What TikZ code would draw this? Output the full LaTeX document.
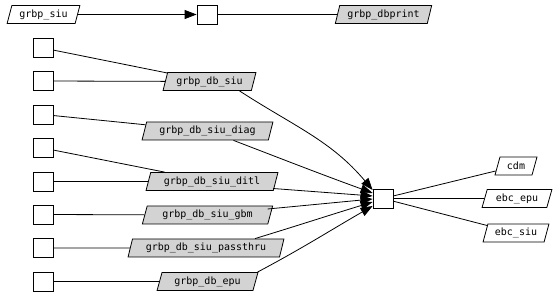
\documentclass[tikz,border=0pt]{standalone}
\usepackage{fontspec}
\setmonofont{DejaVu Sans Mono}
\usetikzlibrary{shapes.geometric,arrows.meta,calc}
\definecolor{gfill}{RGB}{211,211,211}
\begin{document}
\begin{tikzpicture}[x=1pt,y=-1pt,
  every node/.style={font=\ttfamily\fontsize{10}{11}\selectfont, inner sep=0pt, line width=0.8pt},
  para/.style={draw, trapezium, trapezium left angle=70, trapezium right angle=110,
    trapezium stretches=true, minimum height=18pt, minimum width=#1},
  gpara/.style={para=#1, fill=gfill},
  sq/.style={draw, rectangle, minimum width=20pt, minimum height=19pt},
  ln/.style={line width=0.8pt},
  arr/.style={line width=0.8pt, -{Triangle[length=12pt,width=9pt]}}
]
\useasboundingbox (0,0) rectangle (557,296);
% top row
\node[para=73pt] (siu) at (43.5,14.5) {grbp\_siu};
\node[sq] (tb) at (207,14.5) {};
\node[gpara=97pt] (dbprint) at (383.5,14.5) {grbp\_dbprint};
\draw[arr] (siu) -- (tb);
\draw[ln] (tb) -- (dbprint);
% left boxes
\node[sq] (b1) at (43,48) {};
\node[sq] (b2) at (43,81) {};
\node[sq] (b3) at (43,114.5) {};
\node[sq] (b4) at (43,148) {};
\node[sq] (b5) at (43,181.5) {};
\node[sq] (b6) at (43,214.5) {};
\node[sq] (b7) at (43,248) {};
\node[sq] (b8) at (43,281.5) {};
% gray nodes
\node[gpara=93pt] (dbsiu) at (209.5,81.5) {grbp\_db\_siu};
\node[gpara=131pt] (diag) at (207.5,131) {grbp\_db\_siu\_diag};
\node[gpara=132pt] (ditl) at (212,181.5) {grbp\_db\_siu\_ditl};
\node[gpara=131pt] (gbm) at (207.5,215) {grbp\_db\_siu\_gbm};
\node[gpara=156pt] (pass) at (206,248) {grbp\_db\_siu\_passthru};
\node[gpara=101pt] (epu) at (207.5,281.5) {grbp\_db\_epu};
% central box
\node[sq] (cb) at (383,198.5) {};
% right nodes
\node[para=42pt] (cdm) at (516,166) {cdm};
\node[para=70pt] (ebcepu) at (517,198.5) {ebc\_epu};
\node[para=66pt] (ebcsiu) at (516,233) {ebc\_siu};
% left edges
\draw[ln] (b1) -- (dbsiu);
\draw[ln] (b2) -- (dbsiu);
\draw[ln] (b3) -- (diag);
\draw[ln] (b4) -- (ditl);
\draw[ln] (b5) -- (ditl);
\draw[ln] (b6) -- (gbm);
\draw[ln] (b7) -- (pass);
\draw[ln] (b8) -- (epu);
% arrows into central box
\draw[arr] ($(dbsiu.south)+(30,0)$) to[out=-33,in=130] ($(cb.west)+(0,-8.5)$);
\draw[arr] ($(diag.south)+(26,0)$) to[out=-21,in=160] ($(cb.west)+(0,-5.5)$);
\draw[arr] ($(ditl.east)+(-3,7)$) -- ($(cb.west)+(0,-2.5)$);
\draw[arr] ($(gbm.east)+(-3,-6)$) -- ($(cb.west)+(0,0.5)$);
\draw[arr] ($(pass.north)+(49,0)$) to[out=17,in=197] ($(cb.west)+(0,3.5)$);
\draw[arr] ($(epu.north)+(50,0)$) to[out=28,in=210] ($(cb.west)+(0,7.5)$);
% right edges
\draw[ln] (cb) -- (cdm);
\draw[ln] (cb) -- (ebcepu);
\draw[ln] (cb) -- (ebcsiu);
\end{tikzpicture}
\end{document}
